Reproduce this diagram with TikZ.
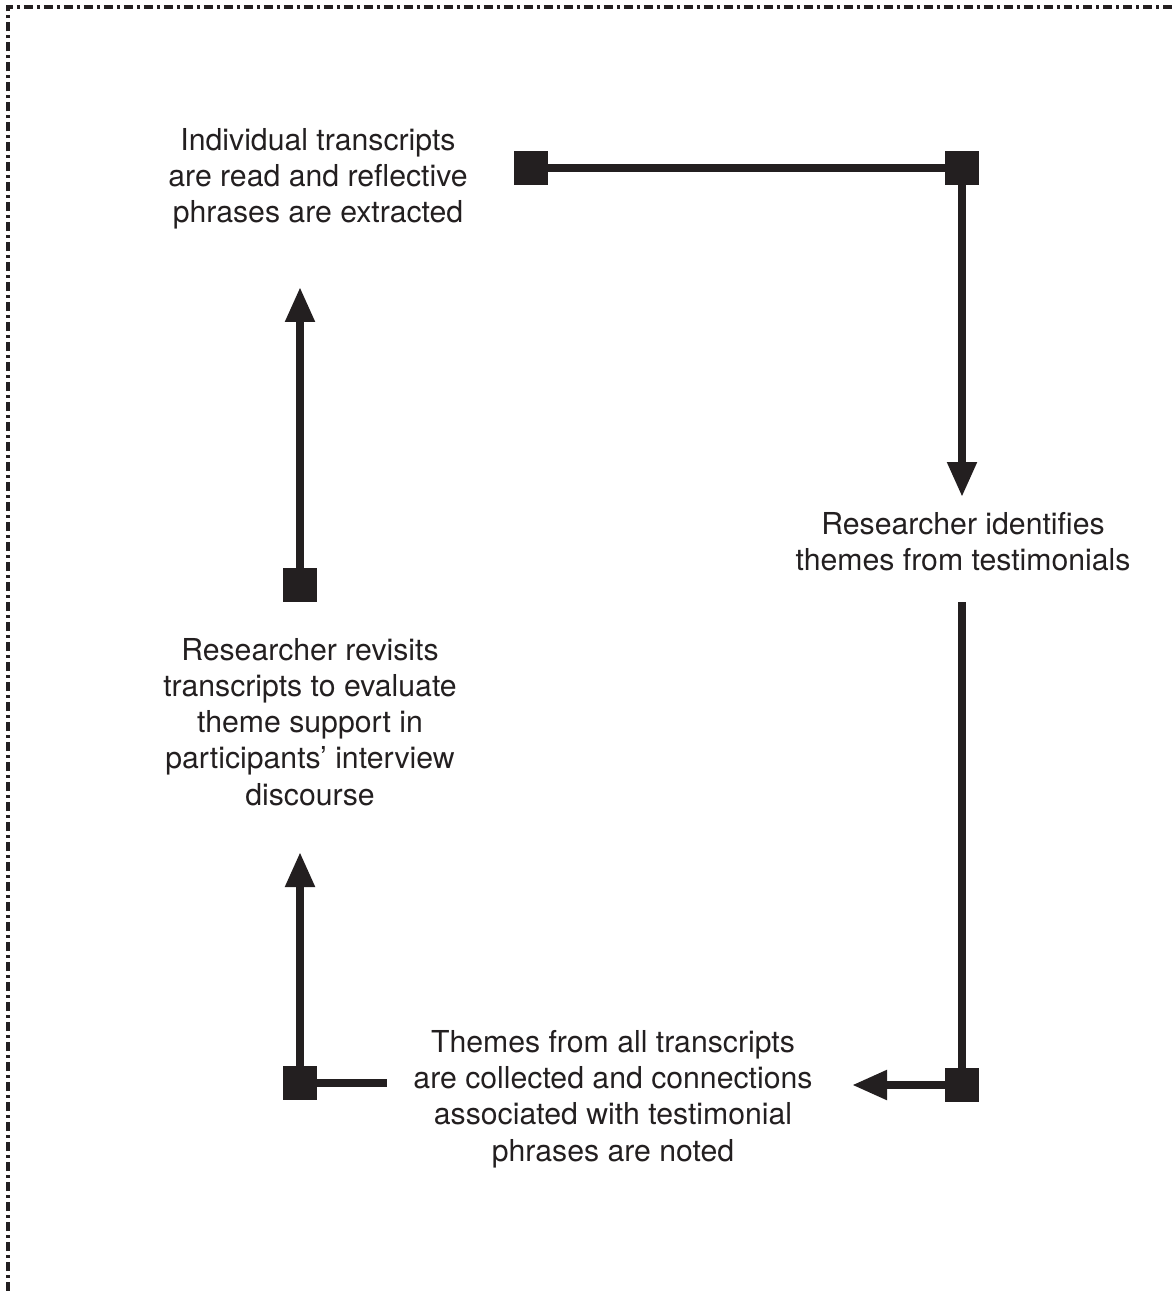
\documentclass[tikz,border=0pt]{standalone}
\usepackage{fontspec}
\setmainfont{TeX Gyre Heros}
\usetikzlibrary{arrows.meta}
\definecolor{ink}{RGB}{35,31,32}
\tikzset{
  stepbox/.style={fill=ink,inner sep=0pt,minimum size=0.68cm},
  steptext/.style={align=center,font=\fontsize{17.2}{20.6}\selectfont,text=ink},
  flow/.style={draw=ink,line width=0.16cm},
  flowarrow/.style={flow,-{Triangle[length=0.7cm,width=0.56cm]}},
}
\begin{document}
\begin{tikzpicture}[x=0.02cm,y=-0.02cm]
\useasboundingbox (0,0) rectangle (1175,1291);
\draw[ink,line width=0.075cm,dash pattern=on 0.18cm off 0.08cm on 0.06cm off 0.08cm] (8,1291) -- (8,7) -- (1175,7);
% texts
\node[steptext] (extract) at (318,179) {Individual transcripts\\are read and reflective\\phrases are extracted};
\node[steptext] (identify) at (963,542) {Researcher identifies\\themes from testimonials};
\node[steptext] (collect) at (613,1099) {Themes from all transcripts\\are collected and connections\\associated with testimonial\\phrases are noted};
\node[steptext] (revisit) at (310,722) {Researcher revisits\\transcripts to evaluate\\theme support in\\participants' interview\\discourse};
% squares
\node[stepbox] (sqa) at (531,168) {};
\node[stepbox] (sqb) at (962,168) {};
\node[stepbox] (sqc) at (962,1085) {};
\node[stepbox] (sqd) at (300,1083) {};
\node[stepbox] (sqe) at (300,585) {};
% free ends
\coordinate (tipb) at (962,497);
\coordinate (startc) at (962,602);
\coordinate (tipc) at (852,1085);
\coordinate (endd) at (387,1083);
\coordinate (tipd) at (300,852);
\coordinate (tipe) at (300,287);
% connectors
\draw[flow] (sqa) -- (sqb);
\draw[flowarrow] (sqb) -- (tipb);
\draw[flow] (startc) -- (sqc);
\draw[flowarrow] (sqc) -- (tipc);
\draw[flow] (sqd) -- (endd);
\draw[flowarrow] (sqd) -- (tipd);
\draw[flowarrow] (sqe) -- (tipe);
\end{tikzpicture}
\end{document}
